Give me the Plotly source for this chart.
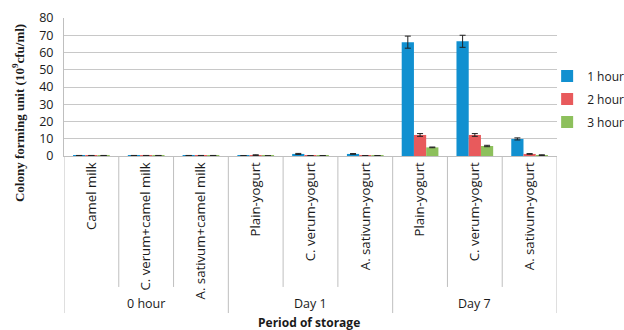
import plotly.graph_objects as go

groups = ["0 hour", "Day 1", "Day 7"]
samples = ["Camel milk", "C. verum+camel milk", "A. sativum+camel milk",
           "Plain-yogurt", "C. verum-yogurt", "A. sativum-yogurt",
           "Plain-yogurt", "C. verum-yogurt", "A. sativum-yogurt"]
per_group = 3

series_names = ["1 hour", "2 hour", "3 hour"]
h1 = [0.3, 0.3, 0.3, 0.2, 1.2, 1.2, 66.0, 66.5, 9.9]
h2 = [0.3, 0.3, 0.3, 0.5, 0.2, 0.2, 12.2, 12.2, 1.2]
h3 = [0.3, 0.3, 0.3, 0.1, 0.2, 0.2, 5.0, 5.8, 0.5]
e1 = [0, 0, 0, 0, 0.3, 0.2, 3.5, 3.5, 0.6]
e2 = [0, 0, 0, 0.2, 0, 0, 0.8, 0.8, 0.2]
e3 = [0, 0, 0, 0, 0, 0, 0.2, 0.4, 0.2]
colors = ["#1190D0", "#E85A5C", "#8DC05C"]

xs = list(range(len(samples)))
line_col = "#bfbfbf"
txt_col = "#1a1a1a"
sans = "Open Sans"

fig = go.Figure()
for name, vals, errs, col in zip(series_names, [h1, h2, h3], [e1, e2, e3], colors):
    fig.add_trace(go.Bar(
        x=xs, y=vals, name=name, marker_color=col,
        marker_line_width=0, legendgroup=name,
        error_y=dict(type="data", array=errs, color="#222", thickness=1, width=3),
    ))

# separators between categories (short) and between groups (long)
for i in range(len(samples) + 1):
    is_group_edge = (i % per_group == 0)
    fig.add_shape(type="line", xref="x", yref="paper",
                  x0=i - 0.5, x1=i - 0.5, y0=0,
                  y1=-1.138 if is_group_edge else -0.949,
                  line=dict(color=line_col, width=1))

for g, name in enumerate(groups):
    fig.add_annotation(text=name, xref="x", yref="paper",
                       x=g * per_group + (per_group - 1) / 2, y=-1.072,
                       xanchor="center", yanchor="middle", showarrow=False,
                       font=dict(family=sans, size=12.5, color=txt_col))

fig.add_annotation(text="<b>Period of storage</b>", xref="paper", yref="paper",
                   x=0.497, y=-1.205, xanchor="center", yanchor="middle",
                   showarrow=False, font=dict(family=sans, size=12, color=txt_col))

fig.add_annotation(
    text="<b>Colony forming unit (10<sup>9</sup>cfu/ml)</b>",
    xref="paper", yref="paper", x=-0.093, y=0.312,
    xanchor="center", yanchor="middle", textangle=-90, showarrow=False,
    font=dict(family="Liberation Serif", size=13, color=txt_col),
)

fig.update_layout(
    width=624, height=330,
    margin=dict(l=64, r=67, t=18, b=174, autoexpand=False),
    paper_bgcolor="white", plot_bgcolor="white",
    barmode="group", bargap=0.33, bargroupgap=0,
    font=dict(family=sans, size=12, color=txt_col),
    legend=dict(x=0.98, y=0.685, xanchor="left", yanchor="top",
                bgcolor="rgba(0,0,0,0)",
                font=dict(family=sans, size=12, color=txt_col),
                tracegroupgap=4, itemwidth=30),
    xaxis=dict(range=[-0.5, len(samples) - 0.5], tickmode="array",
               tickvals=xs, ticktext=samples, tickangle=-90, showgrid=False,
               zeroline=False, showline=True, linecolor=line_col, linewidth=1,
               ticks="", ticklabelstandoff=0,
               tickfont=dict(family=sans, size=13.2, color=txt_col),
               automargin=False),
    yaxis=dict(range=[0, 80], dtick=10, showgrid=True, gridcolor="#c8c8c8",
               gridwidth=1, showline=True, linecolor=line_col, zeroline=False,
               ticks="", ticklabelstandoff=7,
               tickfont=dict(family=sans, size=12.5, color=txt_col),
               automargin=False),
)

fig.write_html("out.html")
